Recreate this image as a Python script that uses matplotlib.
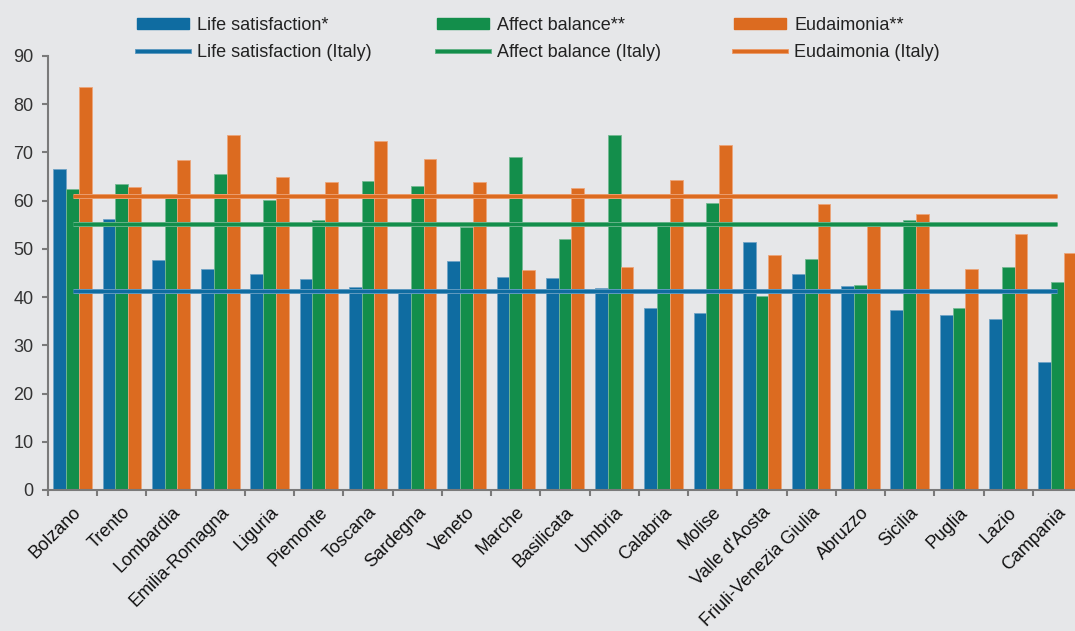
import numpy as np
import matplotlib.pyplot as plt
import matplotlib.patheffects as pe
from matplotlib.lines import Line2D
from matplotlib.patches import Patch

plt.rcParams['font.family'] = ['Liberation Sans', 'DejaVu Sans']

# regions, ordered as in the report
regions = ['Bolzano', 'Trento', 'Lombardia', 'Emilia-Romagna', 'Liguria', 'Piemonte',
           'Toscana', 'Sardegna', 'Veneto', 'Marche', 'Basilicata', 'Umbria', 'Calabria',
           'Molise', "Valle d'Aosta", 'Friuli-Venezia Giulia', 'Abruzzo', 'Sicilia',
           'Puglia', 'Lazio', 'Campania']

life_sat = [66.5, 56.1, 47.6, 45.9, 44.7, 43.8, 42.0, 41.4, 47.4, 44.1, 44.0,
            41.8, 37.8, 36.8, 51.5, 44.8, 42.2, 37.3, 36.2, 35.5, 26.6]
affect = [62.5, 63.5, 60.7, 65.6, 60.2, 55.9, 64.0, 63.1, 54.5, 69.1, 52.0,
          73.6, 55.3, 59.6, 40.2, 47.8, 42.5, 56.0, 37.7, 46.3, 43.1]
eudaimonia = [83.6, 62.9, 68.5, 73.6, 64.9, 63.8, 72.4, 68.7, 63.8, 45.7, 62.7,
              46.3, 64.2, 71.6, 48.8, 59.4, 54.9, 57.3, 45.8, 53.1, 49.2]

# national averages
italy_life = 41.3
italy_affect = 55.1
italy_eud = 60.9

blue = '#0F6CA1'
green = '#138E4B'
orange = '#DC6B20'
bg = '#E6E7E9'

fig = plt.figure(figsize=(10.75, 6.31), dpi=100)
fig.set_facecolor(bg)
# plot area runs a bit past the right edge, as in the original
ax = fig.add_axes([48 / 1075, 0.2235, 1034 / 1075, 0.6878])
ax.set_facecolor(bg)

x = np.arange(len(regions))
w = 0.26
ax.bar(x - w, life_sat, w, color=blue, edgecolor='#6FA3C6', linewidth=0.6, zorder=2)
ax.bar(x, affect, w, color=green, edgecolor='#74B993', linewidth=0.6, zorder=2)
ax.bar(x + w, eudaimonia, w, color=orange, edgecolor='#EDA57A', linewidth=0.6, zorder=2)

def halo(c):
    return [pe.Stroke(linewidth=3.6, foreground=c), pe.Normal()]

ax.hlines(italy_eud, x[0], x[-1], color=orange, lw=2.4, zorder=3, path_effects=halo('#EDA57A'))
ax.hlines(italy_affect, x[0], x[-1], color=green, lw=2.4, zorder=3, path_effects=halo('#74B993'))
ax.hlines(italy_life, x[0], x[-1], color=blue, lw=2.4, zorder=3, path_effects=halo('#6FA3C6'))

ax.set_xlim(-0.5, len(regions) - 0.5)
ax.set_ylim(0, 90)
ax.set_yticks(range(0, 91, 10))

# tick marks sit between the groups, labels at the group centres
ax.set_xticks(np.arange(-0.5, len(regions) - 0.4, 1))
ax.set_xticklabels([])
ax.set_xticks(x, minor=True)
ax.set_xticklabels(regions, minor=True, rotation=45, ha='right', rotation_mode='anchor',
                   fontsize=13, color='#111111')
ax.tick_params(axis='x', which='minor', length=0, pad=10)
ax.tick_params(axis='x', which='major', length=4.5, width=1.5, color='#7A7A7A')
ax.tick_params(axis='y', length=4.5, width=1.5, color='#7A7A7A', labelsize=13,
               labelcolor='#333333', pad=6)

for s in ['top', 'right']:
    ax.spines[s].set_visible(False)
for s in ['left', 'bottom']:
    ax.spines[s].set_color('#7A7A7A')
    ax.spines[s].set_linewidth(1.5)

# legend: three columns placed by hand
cols = [
    ('Life satisfaction*', 'Life satisfaction (Italy)', blue, '#6FA3C6', 137),
    ('Affect balance**', 'Affect balance (Italy)', green, '#74B993', 437),
    ('Eudaimonia**', 'Eudaimonia (Italy)', orange, '#EDA57A', 734),
]
for bar_lab, line_lab, c, edge, px in cols:
    hs = [Patch(facecolor=c, edgecolor=c),
          Line2D([0], [0], color=c, lw=2.4, path_effects=halo(edge))]
    fig.legend(hs, [bar_lab, line_lab], loc='upper left', bbox_to_anchor=(px / 1075, 0.973),
               frameon=False, fontsize=13, handlelength=2.9, handleheight=0.55,
               handletextpad=0.45, labelspacing=0.55, borderpad=0, borderaxespad=0,
               labelcolor='#222222')

fig.savefig('out.png', dpi=100, facecolor=bg)
